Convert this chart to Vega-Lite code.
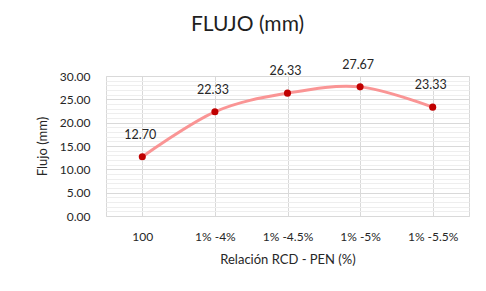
{
  "$schema": "https://vega.github.io/schema/vega-lite/v6.json",
  "width": 363,
  "height": 140,
  "autosize": {"type": "none"},
  "padding": {"left": 106, "top": 76, "right": 17, "bottom": 75},
  "background": "white",
  "title": {"text": "FLUJO (mm)", "fontSize": 21, "font": "Lato", "fontWeight": "normal", "color": "#1F1F1F", "anchor": "middle", "dx": -40, "offset": 24},
  "config": {"view": {"stroke": "#D9D9D9"}, "font": "Lato"},
  "data": {"values": [
    {"cat": "100", "v": 12.70},
    {"cat": "1% -4%", "v": 22.33},
    {"cat": "1% -4.5%", "v": 26.33},
    {"cat": "1% -5%", "v": 27.67},
    {"cat": "1% -5.5%", "v": 23.33}
  ]},
  "resolve": {"axis": {"x": "independent", "y": "independent"}},
  "layer": [
    {
      "mark": {"type": "point", "opacity": 0},
      "encoding": {
        "x": {"field": "cat", "type": "nominal", "sort": null, "axis": {"orient": "bottom", "grid": true, "gridColor": "#EEEEEE", "bandPosition": 0.5, "ticks": false, "domain": false, "labelAngle": 0, "labelFontSize": 12, "labelColor": "#262626", "labelPadding": 15, "title": "Relación RCD - PEN (%)", "titleFontSize": 13, "titleFontWeight": "normal", "titleColor": "#262626", "titlePadding": 11}},
        "y": {"field": "v", "type": "quantitative", "scale": {"domain": [0, 30], "nice": false}, "axis": {"orient": "left", "values": [1,2,3,4,6,7,8,9,11,12,13,14,16,17,18,19,21,22,23,24,26,27,28,29], "grid": true, "gridColor": "#EEEEEE", "labels": false, "ticks": false, "domain": false, "title": null}}
      }
    },
    {
      "mark": {"type": "point", "opacity": 0},
      "encoding": {
        "x": {"field": "cat", "type": "nominal", "sort": null, "axis": {"orient": "bottom", "grid": true, "gridColor": "#D9D9D9", "bandPosition": 0, "labels": false, "ticks": false, "domain": false, "title": null}},
        "y": {"field": "v", "type": "quantitative", "scale": {"domain": [0, 30], "nice": false}, "axis": {"orient": "left", "values": [0, 5, 10, 15, 20, 25, 30], "format": ".2f", "grid": true, "gridColor": "#D9D9D9", "ticks": false, "domain": false, "labelFontSize": 12, "labelColor": "#262626", "labelPadding": 16, "title": "Flujo (mm)", "titleFontSize": 13, "titleFontWeight": "normal", "titleColor": "#262626", "titlePadding": 10}}
      }
    },
    {
      "mark": {"type": "line", "interpolate": "cardinal", "color": "#F98A8A", "strokeWidth": 3, "opacity": 0.9},
      "encoding": {
        "x": {"field": "cat", "type": "nominal", "sort": null, "axis": null},
        "y": {"field": "v", "type": "quantitative", "scale": {"domain": [0, 30], "nice": false}, "axis": null}
      }
    },
    {
      "mark": {"type": "point", "filled": true, "color": "#C00000", "size": 50, "opacity": 1},
      "encoding": {
        "x": {"field": "cat", "type": "nominal", "sort": null, "axis": null},
        "y": {"field": "v", "type": "quantitative", "scale": {"domain": [0, 30], "nice": false}, "axis": null}
      }
    },
    {
      "mark": {"type": "text", "dy": -22, "dx": -2, "fontSize": 12.5, "color": "#262626"},
      "encoding": {
        "x": {"field": "cat", "type": "nominal", "sort": null, "axis": null},
        "y": {"field": "v", "type": "quantitative", "scale": {"domain": [0, 30], "nice": false}, "axis": null},
        "text": {"field": "v", "type": "quantitative", "format": ".2f"}
      }
    }
  ]
}
